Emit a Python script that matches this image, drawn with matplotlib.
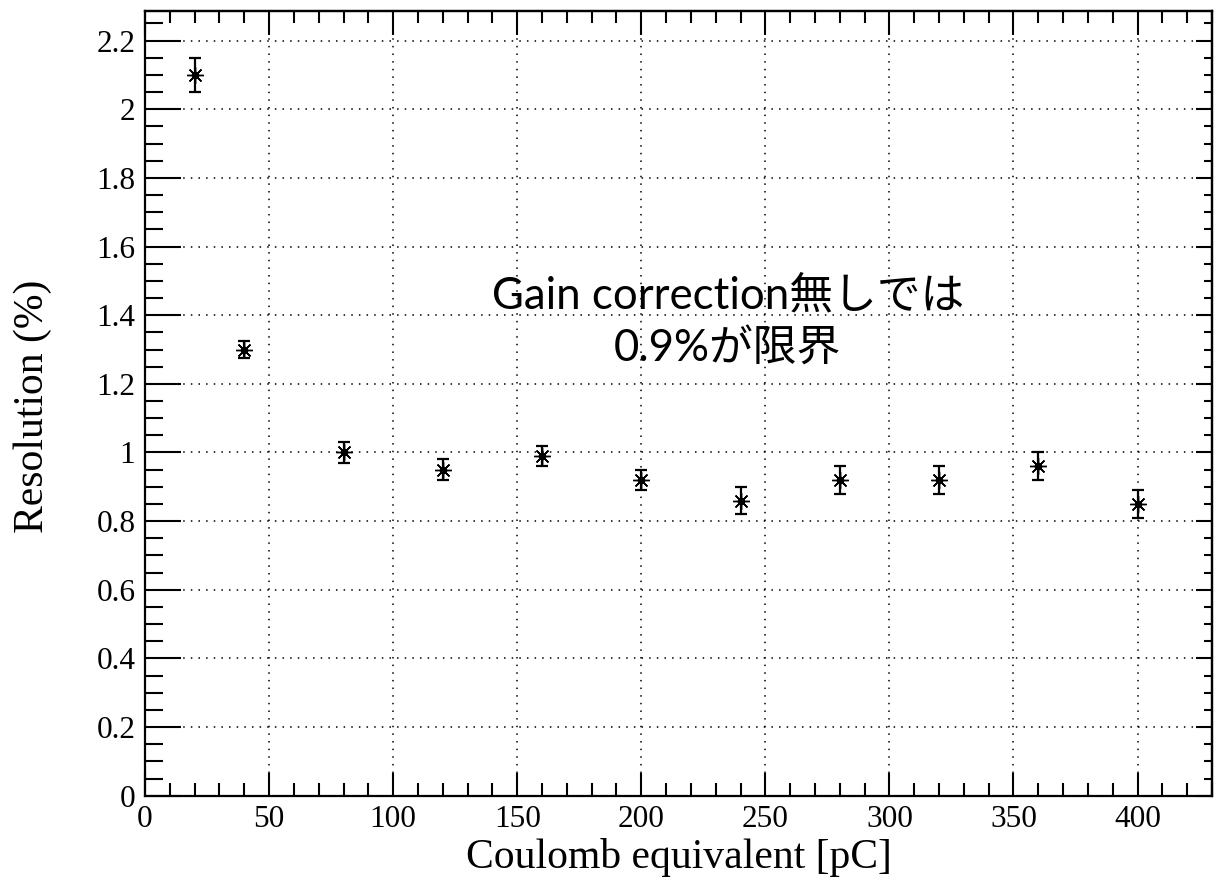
import matplotlib
matplotlib.use("Agg")
import matplotlib.pyplot as plt
from matplotlib.ticker import MultipleLocator, FuncFormatter

# Measured resolution vs. charge
charge_pc = [20, 40, 80, 120, 160, 200, 240, 280, 320, 360, 400]
resolution_pct = [2.10, 1.30, 1.00, 0.95, 0.99, 0.92, 0.86, 0.92, 0.92, 0.96, 0.85]
resolution_err = [0.05, 0.025, 0.03, 0.03, 0.03, 0.03, 0.04, 0.04, 0.04, 0.04, 0.04]

x_label = "Coulomb equivalent [pC]"
y_label = "Resolution (%)"
note_text = "Gain correction無しでは\n0.9%が限界"

serif = "Liberation Serif"

fig = plt.figure(figsize=(12.2, 8.92), dpi=100)
ax = fig.add_axes([0.1189, 0.1080, 0.8745, 0.8797])

ax.set_xlim(0, 430)
ax.set_ylim(0, 2.2865)

# Grid at major ticks, dotted
ax.grid(True, which="major", color="black", linestyle=(0, (1, 4)), linewidth=1.1)
ax.set_axisbelow(True)

# Error bars and asterisk markers
ax.errorbar(charge_pc, resolution_pct, yerr=resolution_err, fmt="none",
            ecolor="black", elinewidth=1.6, capsize=4.5, capthick=1.6, zorder=3)
ax.plot(charge_pc, resolution_pct, linestyle="none", marker=(8, 2, 0),
        markersize=12, markeredgewidth=1.0, color="black", zorder=4)
ax.plot(charge_pc, resolution_pct, linestyle="none", marker="o",
        markersize=4.5, color="black", zorder=5)

# Ticks
fmt = FuncFormatter(lambda v, p: "%g" % round(v, 6))
ax.xaxis.set_major_locator(MultipleLocator(50))
ax.xaxis.set_minor_locator(MultipleLocator(10))
ax.yaxis.set_major_locator(MultipleLocator(0.2))
ax.yaxis.set_minor_locator(MultipleLocator(0.05))
ax.xaxis.set_major_formatter(fmt)
ax.yaxis.set_major_formatter(fmt)

ax.tick_params(axis="x", which="major", direction="in", length=16.5, width=1.5,
               pad=7, labelsize=22.5)
ax.tick_params(axis="x", which="minor", direction="in", length=9.4, width=1.5)
ax.tick_params(axis="y", which="major", direction="in", length=26, width=1.5,
               pad=7, labelsize=22.5)
ax.tick_params(axis="y", which="minor", direction="in", length=13, width=1.5)
for lab in ax.get_xticklabels() + ax.get_yticklabels():
    lab.set_fontfamily(serif)

for sp in ax.spines.values():
    sp.set_linewidth(1.6)

# Tick marks along the top and right frame edges
top = ax.secondary_xaxis("top")
top.xaxis.set_major_locator(MultipleLocator(50))
top.xaxis.set_minor_locator(MultipleLocator(10))
top.tick_params(which="major", direction="in", length=17, width=1.5, labeltop=False)
top.tick_params(which="minor", direction="in", length=8.6, width=1.5)
top.spines["top"].set_linewidth(1.6)

right = ax.secondary_yaxis("right")
right.yaxis.set_major_locator(MultipleLocator(0.2))
right.yaxis.set_minor_locator(MultipleLocator(0.05))
right.tick_params(which="major", direction="in", length=11.5, width=1.5, labelright=False)
right.tick_params(which="minor", direction="in", length=5.5, width=1.5)
right.spines["right"].set_linewidth(1.6)

# Axis titles
ax.set_xlabel(x_label, fontfamily=serif, fontsize=30)
ax.xaxis.set_label_coords(0.5, -0.0921)
ax.xaxis.label.set_va("baseline")

ax.set_ylabel(y_label, fontfamily=serif, fontsize=30)
ax.yaxis.label.set_rotation_mode("anchor")
ax.yaxis.label.set_va("baseline")
ax.yaxis.label.set_ha("center")
ax.yaxis.set_label_coords(-0.0956, 0.4966)

# Annotation
ax.text(234.8, 1.265, note_text, ha="center", va="baseline", fontsize=31.5,
        family=["Lato", "Noto Sans CJK JP"], linespacing=1.36, zorder=6,
        multialignment="center")

fig.savefig("out.png", dpi=100)
